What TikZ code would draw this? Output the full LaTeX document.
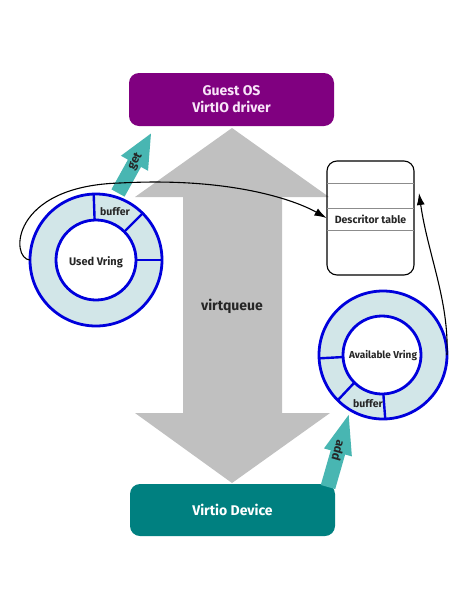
\documentclass[tikz,border=0pt]{standalone}
\usepackage{fontspec}
\setmainfont{Fira Sans}
\usetikzlibrary{arrows.meta}
\definecolor{guestpurple}{RGB}{128,0,128}
\definecolor{devteal}{RGB}{0,128,128}
\definecolor{arrowteal}{RGB}{72,182,178}
\definecolor{qgray}{RGB}{192,192,192}
\definecolor{ringfill}{RGB}{210,230,232}
\definecolor{ringblue}{RGB}{0,0,220}
\definecolor{guesttext}{RGB}{248,228,248}
\definecolor{tablegray}{RGB}{140,140,140}
\begin{document}
\begin{tikzpicture}[x=1pt,y=-1pt,
  hostbox/.style={rounded corners=10pt, minimum width=205pt, minimum height=53pt,
    inner sep=0pt, align=center, font=\bfseries\fontsize{14}{17}\selectfont},
  ringout/.style={circle, draw=ringblue, line width=2.8pt, fill=ringfill, inner sep=0pt, outer sep=0pt},
  ringin/.style={circle, draw=ringblue, line width=2.8pt, fill=white, inner sep=0pt, outer sep=0pt},
  ringdiv/.style={draw=ringblue, line width=2.4pt},
  ringlabel/.style={font=\bfseries\fontsize{11}{13}\selectfont, text=black!85, inner sep=0pt},
  arrowlabel/.style={font=\bfseries\fontsize{12}{14}\selectfont, text=black!85, inner sep=0pt},
  flow/.style={-{Latex[length=12pt,width=8pt]}, line width=1.1pt},
  tealarrow/.style={fill=arrowteal},
  tablebox/.style={draw=black, line width=1.1pt, rounded corners=10pt, minimum width=87pt,
    minimum height=114pt, inner sep=0pt},
  tablesep/.style={draw=tablegray, line width=0.9pt},
]
\useasboundingbox (0,0) rectangle (472,611);
\fill[white] (0,0) rectangle (472,611);

% grey double arrow (virtqueue)
\fill[qgray] (232,128) -- (329,197) -- (282,197) -- (282,413) -- (330,413) -- (232,483)
  -- (135,413) -- (183,413) -- (183,197) -- (135,197) -- cycle;
\node[font=\bfseries\fontsize{14}{16}\selectfont, text=black!85] (vq) at (232,306) {virtqueue};

% teal "get" arrow
\begin{scope}[shift={(118,193)}, rotate=61]
  \fill[tealarrow] (0,-7.5) -- (34,-7.5) -- (34,-15.5) -- (68,0) -- (34,15.5) -- (34,7.5) -- (0,7.5) -- cycle;
  \node[arrowlabel, rotate=61] (get) at (36,0) {get};
\end{scope}

% used vring
\node[ringout, minimum size=132pt] (usedout) at (96,260) {};
\node[ringin, minimum size=80pt] (usedin) at (96,260) {};
\draw[ringdiv] (usedin.92) -- (usedout.92);
\draw[ringdiv] (usedin.45) -- (usedout.45);
\draw[ringdiv] (usedin.0) -- (usedout.0);
\node[ringlabel] (usedlabel) at (96,262) {Used Vring};
\node[ringlabel, font=\bfseries\fontsize{10.5}{12}\selectfont] (usedbuf) at (115,212) {buffer};

% available vring
\node[ringout, minimum size=128pt] (avout) at (383,355) {};
\node[ringin, minimum size=78pt] (avin) at (382,355) {};
\draw[ringdiv] (avin.183) -- (avout.183);
\draw[ringdiv] (avin.225) -- (avout.225);
\draw[ringdiv] (avin.272) -- (avout.272);
\node[ringlabel, font=\bfseries\fontsize{10}{12}\selectfont] (avlabel) at (383,356) {Available Vring};
\node[ringlabel, font=\bfseries\fontsize{10.5}{12}\selectfont] (avbuf) at (368,404) {buffer};

% descriptor table
\node[tablebox] (desc) at (370.5,218) {};
\draw[tablesep] (327,183) -- (414,183);
\draw[tablesep] (327,208) -- (414,208);
\draw[tablesep] (327,230) -- (414,230);
\node[ringlabel, font=\bfseries\fontsize{10.5}{12}\selectfont] (desclabel) at (370.5,219) {Descritor table};

% host boxes
\node[hostbox, fill=guestpurple, text=guesttext] (guest) at (231.5,99.5) {Guest OS\\VirtIO driver};
\node[hostbox, fill=devteal, text=white, minimum height=52pt] (dev) at (232.5,510) {Virtio Device};

% teal "add" arrow
\begin{scope}[shift={(328,487)}, rotate=74]
  \fill[tealarrow] (0,-7.5) -- (36,-7.5) -- (36,-14.5) -- (75,0) -- (36,14.5) -- (36,7.5) -- (0,7.5) -- cycle;
  \node[arrowlabel, rotate=-106] (add) at (38,0) {add};
\end{scope}

% connectors
\coordinate (descin) at (419,193);
\draw[flow] (usedout.west) .. controls (10,259) and (10,186) .. (120,183)
  .. controls (230,177) and (295,200) .. (desc.west);
\draw[flow] (avout.east) .. controls (449,300) and (428,255) .. (descin);
\end{tikzpicture}
\end{document}
